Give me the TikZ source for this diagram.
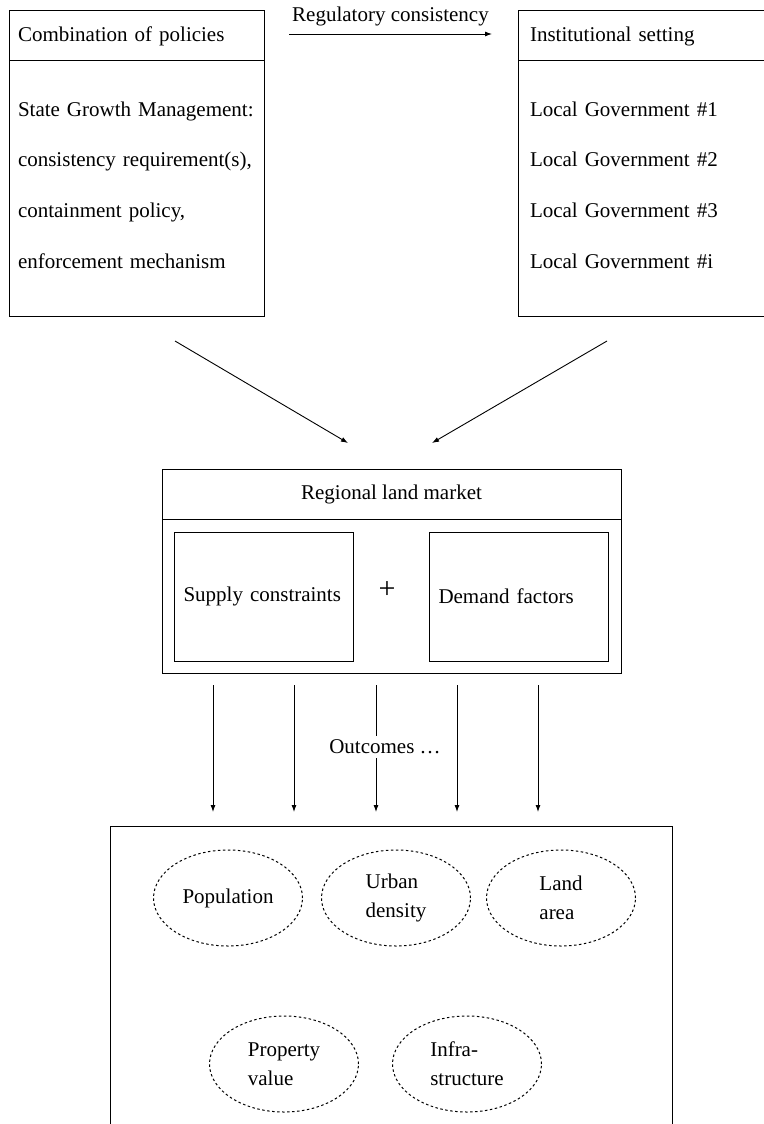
\documentclass[tikz,border=0pt]{standalone}
\usepackage{fontspec}
\setmainfont{Liberation Serif}
\usetikzlibrary{shapes.geometric, arrows.meta}
\tikzstyle{boxpart} = [rectangle, draw=black, line width=1pt, inner sep=0pt, align=left]
\tikzstyle{listtext} = [text height=14pt, text depth=4pt, inner sep=0pt, align=left]
\tikzstyle{outcome} = [ellipse, draw=black, line width=1pt, dash pattern=on 2.5pt off 2.5pt, minimum width=149pt, minimum height=96pt, inner sep=0pt, align=left]
\tikzstyle{link} = [-{Latex[length=7pt, width=5pt]}, line width=0.9pt]

\begin{document}
\begin{tikzpicture}[x=1pt, y=-1pt, font=\fontsize{21}{29}\selectfont, node distance=50.7pt]
\useasboundingbox (0,0) rectangle (763,1124);

% combination of policies
\node (ph) [boxpart, minimum width=255pt, minimum height=50pt, text width=237pt] at (136.5,36) {Combination of policies};
\node (pb) [boxpart, minimum width=255pt, minimum height=255pt] at (136.5,188.5) {};
\node (sg1) [listtext, text width=237pt] at (136.5,111) {State Growth Management:};
\node (sg2) [listtext, text width=237pt, below of=sg1] {consistency requirement(s),};
\node (sg3) [listtext, text width=237pt, below of=sg2] {containment policy,};
\node (sg4) [listtext, text width=237pt, below of=sg3] {enforcement mechanism};

% institutional setting
\node (ih) [boxpart, minimum width=250pt, minimum height=50pt, text width=226pt] at (643,36) {Institutional setting};
\node (ib) [boxpart, minimum width=250pt, minimum height=255pt] at (643,188.5) {};
\node (lg1) [listtext, text width=226pt] at (643,111) {Local Government \#1};
\node (lg2) [listtext, text width=226pt, below of=lg1] {Local Government \#2};
\node (lg3) [listtext, text width=226pt, below of=lg2] {Local Government \#3};
\node (lg4) [listtext, text width=226pt, below of=lg3] {Local Government \#i};

\coordinate (rc1) at (289,34);
\coordinate (rc2) at (492,34);
\draw[link] (rc1) -- node[above=4pt] {Regulatory consistency} (rc2);

\coordinate (pl) at (175,341);
\coordinate (ml) at (348,443);
\coordinate (pr) at (607,341);
\coordinate (mr) at (432,443);
\draw[link] (pl) -- (ml);
\draw[link] (pr) -- (mr);

% regional land market
\node (mh) [boxpart, minimum width=459pt, minimum height=50pt] at (391.5,494) {Regional land market};
\node (mb) [boxpart, minimum width=459pt, minimum height=154pt] at (391.5,596) {};
\node (sc) [boxpart, minimum width=179pt, minimum height=129pt, text width=160pt] at (263.5,596.5) {Supply constraints};
\node (df) [boxpart, minimum width=179pt, minimum height=129pt, text width=160pt] at (518.5,596.5) {Demand factors};
\node (plus) [font=\fontsize{30}{30}\selectfont] at (387,590) {+};

% outcomes
\foreach \x [count=\i] in {213,294,376,457,538} {
  \coordinate (os\i) at (\x,685);
  \coordinate (oe\i) at (\x,812);
  \draw[link] (os\i) -- (oe\i);
}
\node (oc) [fill=white, inner sep=4pt] at (385,747) {Outcomes \dots};

\node (ob) [boxpart, minimum width=562pt, minimum height=330pt] at (391,991) {};
\node (o1) [outcome] at (228,898) {Population};
\node (o2) [outcome] at (396,898) {Urban\\density};
\node (o3) [outcome] at (561,898) {Land\\area};
\node (o4) [outcome] at (284,1064) {Property\\value};
\node (o5) [outcome] at (467,1064) {Infra-\\structure};

\end{tikzpicture}
\end{document}
